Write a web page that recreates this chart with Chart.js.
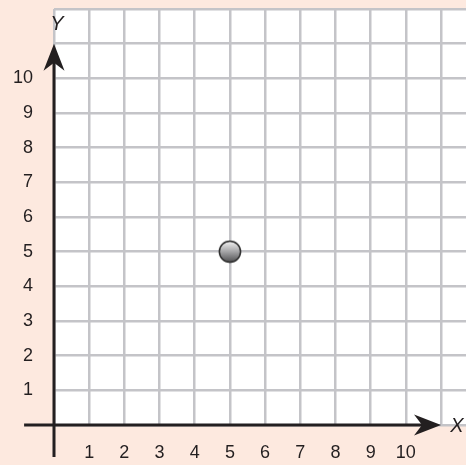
<!DOCTYPE html>
<html>
<head>
<meta charset="utf-8">
<script src="https://cdn.jsdelivr.net/npm/chart.js@4"></script>
<style>
  html, body { margin: 0; padding: 0; background: #fde9df; }
  canvas { display: block; }
</style>
</head>
<body>
<canvas id="gridChart" width="466" height="465"></canvas>
<script>
// DATA
const pointX = [5];
const pointY = [5];
const xTickLabels = ['1', '2', '3', '4', '5', '6', '7', '8', '9', '10'];
const yTickLabels = ['1', '2', '3', '4', '5', '6', '7', '8', '9', '10'];

const inkColor = '#231f20';
const gridColor = '#c4c4c8';

// gray ball used as the point style
const ball = document.createElement('canvas');
ball.width = 24;
ball.height = 24;
(function () {
  const c = ball.getContext('2d');
  const g = c.createLinearGradient(0, 2, 0, 22);
  g.addColorStop(0, '#f0f0f0');
  g.addColorStop(0.5, '#a4a4a6');
  g.addColorStop(1, '#555557');
  c.beginPath();
  c.arc(12, 12, 10.6, 0, Math.PI * 2);
  c.fillStyle = g;
  c.fill();
  c.lineWidth = 1.5;
  c.strokeStyle = '#2a2a2a';
  c.stroke();
})();

// fixed box sizes so the plot area lands where the picture has it
function fixBox(scale, w, h) {
  if (w !== null) scale.width = w;
  if (h !== null) scale.height = h;
  scale.paddingTop = 0;
  scale.paddingBottom = 0;
  scale.paddingLeft = 0;
  scale.paddingRight = 0;
}

// peach page, white plotting area
const backgroundPlugin = {
  id: 'backgroundPlugin',
  beforeDraw(chart) {
    const { ctx, chartArea } = chart;
    ctx.save();
    ctx.fillStyle = '#fde9df';
    ctx.fillRect(0, 0, chart.width, chart.height);
    ctx.fillStyle = '#ffffff';
    ctx.fillRect(chartArea.left, chartArea.top, chartArea.right - chartArea.left, chartArea.bottom - chartArea.top);
    ctx.restore();
  }
};

// axes with arrow heads and X / Y names
const axesPlugin = {
  id: 'axesPlugin',
  afterDatasetsDraw(chart) {
    const { ctx } = chart;
    const xs = chart.scales.x;
    const ys = chart.scales.y;
    const x0 = xs.getPixelForValue(0);
    const y0 = ys.getPixelForValue(0);
    const xTip = xs.getPixelForValue(11);
    const yTip = ys.getPixelForValue(11);
    ctx.save();
    ctx.strokeStyle = inkColor;
    ctx.fillStyle = inkColor;
    ctx.lineWidth = 3;
    // x axis
    ctx.beginPath();
    ctx.moveTo(xs.getPixelForValue(-0.85), y0);
    ctx.lineTo(xTip - 18, y0);
    ctx.stroke();
    ctx.beginPath();
    ctx.moveTo(xTip, y0);
    ctx.lineTo(xTip - 27, y0 - 10.5);
    ctx.lineTo(xTip - 19, y0);
    ctx.lineTo(xTip - 27, y0 + 10.5);
    ctx.closePath();
    ctx.fill();
    // y axis
    ctx.beginPath();
    ctx.moveTo(x0, ys.getPixelForValue(-0.92));
    ctx.lineTo(x0, yTip + 18);
    ctx.stroke();
    ctx.beginPath();
    ctx.moveTo(x0, yTip);
    ctx.lineTo(x0 - 10.5, yTip + 27);
    ctx.lineTo(x0, yTip + 19);
    ctx.lineTo(x0 + 10.5, yTip + 27);
    ctx.closePath();
    ctx.fill();
    // names
    ctx.font = 'italic 20px "Liberation Sans", Arial, sans-serif';
    ctx.textAlign = 'center';
    ctx.textBaseline = 'middle';
    ctx.fillText('X', xTip + 16, y0 + 1);
    ctx.fillText('Y', x0 + 3, yTip - 19);
    ctx.restore();
  }
};

const gridChartData = {
  datasets: [{
    label: 'Point',
    data: pointX.map((x, i) => ({ x: x, y: pointY[i] })),
    pointStyle: ball,
    pointRadius: 12,
    pointHoverRadius: 12
  }]
};

const gridChartConfig = {
  type: 'scatter',
  data: gridChartData,
  options: {
    responsive: false,
    animation: false,
    devicePixelRatio: 1,
    layout: {
      autoPadding: false,
      padding: { top: 9, left: 0, right: 0, bottom: 0 }
    },
    scales: {
      x: {
        type: 'linear',
        min: 0,
        max: 11.71,
        afterFit(scale) { fixBox(scale, null, 40); },
        border: { display: false },
        grid: { color: gridColor, lineWidth: 2.5, drawTicks: false },
        ticks: {
          stepSize: 1,
          includeBounds: false,
          autoSkip: false,
          maxRotation: 0,
          padding: 17,
          color: inkColor,
          font: { family: '"Liberation Sans", Arial, sans-serif', size: 18 },
          callback: (v) => xTickLabels.includes(String(v)) ? String(v) : ''
        }
      },
      y: {
        type: 'linear',
        min: 0,
        max: 12,
        afterFit(scale) { fixBox(scale, 54, null); },
        border: { display: false },
        grid: { color: gridColor, lineWidth: 2.5, drawTicks: false },
        ticks: {
          stepSize: 1,
          includeBounds: false,
          autoSkip: false,
          padding: 21,
          color: inkColor,
          font: { family: '"Liberation Sans", Arial, sans-serif', size: 18 },
          callback: (v) => yTickLabels.includes(String(v)) ? String(v) : ''
        }
      }
    },
    plugins: {
      legend: { display: false },
      tooltip: { enabled: false }
    }
  },
  plugins: [backgroundPlugin, axesPlugin]
};

const gridChart = new Chart(
  document.getElementById('gridChart'),
  gridChartConfig
);
</script>
</body>
</html>
